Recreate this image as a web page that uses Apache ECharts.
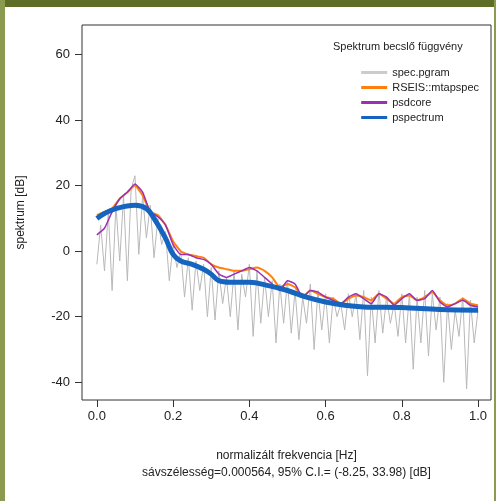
<!DOCTYPE html>
<html><head><meta charset="utf-8">
<script src="https://cdn.jsdelivr.net/npm/echarts@6/dist/echarts.min.js"></script>
<style>html,body{margin:0;padding:0;background:#fff}#c{width:496px;height:501px}</style>
</head><body><div id="c"></div>
<script>
var pgramX = [];
for (var i = 0; i <= 100; i++) pgramX.push(i / 100);
var pgramY = [-4,8,-6,12,-12,14,-3,17,-9,19,23,-1,17,4,14,-2,10,2,6,-9,2,-5,0,-14,-2,-18,-3,-12,-4,-20,
  -5,-21,-6,-16,-8,-20,-6,-24,-7,-14,-4,-26,-6,-22,-8,-20,-9,-28,-10,-22,-9,-25,-12,-27,-14,-22,-10,-30,-12,-24,
  -13,-28,-14,-20,-16,-24,-13,-20,-13,-27,-12,-38,-14,-28,-12,-25,-14,-22,-16,-26,-13,-28,-13,-36,-14,-28,-12,-32,-13,-24,
  -14,-40,-16,-30,-18,-26,-14,-42,-15,-28,-18];
var taperX = [0,0.02,0.04,0.06,0.08,0.1,0.12,0.14,0.16,0.18,0.2,0.22,0.24,0.26,0.28,0.3,0.32,0.34,0.36,0.38,0.4,0.42,0.44,0.46,0.48,0.5,
  0.52,0.54,0.56,0.58,0.6,0.62,0.64,0.66,0.68,0.7,0.72,0.74,0.76,0.78,0.8,0.82,0.84,0.86,0.88,0.9,0.92,0.94,0.96,0.98,1.0];
var mtapY = [11,12,13,16,18,20,17,12,11,8,3,0,-1,-1.5,-2,-4,-5,-5.5,-6,-6,-5.5,-5,-6,-8,-11,-10,
  -11,-14,-12,-13,-14,-14.5,-16,-14.5,-13.5,-14,-15,-13,-14.5,-16,-14,-13.5,-15,-14,-12.5,-15,-16.5,-16,-14.5,-16,-16.5];
var psdY = [5,7,12,16,18,20.5,18,12,10.5,8,2,-1,-1,-2,-2.5,-4,-7,-8,-7,-6,-5,-6,-8,-10,-12,-9,
  -10,-14,-12,-12.5,-14,-15,-16,-14,-13,-14.5,-16,-13,-14,-16.5,-14.5,-13,-15,-14.5,-12,-15.5,-17,-16,-15,-16.5,-17];
var pspecX = [0,0.02,0.05,0.1,0.13,0.15,0.18,0.2,0.22,0.25,0.28,0.3,0.32,0.35,0.4,0.45,0.5,0.55,0.6,0.65,0.7,0.8,0.9,1.0];
var pspecY = [10,11.5,13,14,13,10,4,-1,-3,-4,-5.5,-7,-9,-9.5,-9.5,-10.5,-12,-14,-15.5,-16.5,-17,-17.2,-17.8,-18];
var xTicks = [0,0.2,0.4,0.6,0.8,1.0];
var yTicks = [-40,-20,0,20,40,60];
var names = ['spec.pgram','RSEIS::mtapspec','psdcore','pspectrum'];

function zip(xs, ys) { return xs.map(function (x, i) { return [x, ys[i]]; }); }

var chart = echarts.init(document.getElementById('c'));
var f = 'Liberation Sans, Arial, sans-serif';
chart.setOption({
  animation: false,
  textStyle: { fontFamily: f },
  grid: { left: 82, right: 5, top: 25, bottom: 101, show: true, borderColor: '#333', borderWidth: 1 },
  xAxis: {
    type: 'value', min: -0.039, max: 1.034,
    axisLine: { show: false, onZero: false }, splitLine: { show: false },
    axisTick: { show: true, length: 7, lineStyle: { color: '#333' }, customValues: xTicks },
    axisLabel: { customValues: xTicks, color: '#222', fontSize: 13, margin: 10,
      formatter: function (v) { return v.toFixed(1); } },
    name: 'normalizált frekvencia [Hz]\nsávszélesség=0.000564, 95% C.I.= (-8.25, 33.98) [dB]',
    nameLocation: 'middle', nameGap: 47, nameTextStyle: { color: '#222', fontSize: 12, lineHeight: 17 }
  },
  yAxis: {
    type: 'value', min: -45.4, max: 69,
    axisLine: { show: false, onZero: false }, splitLine: { show: false },
    axisTick: { show: true, length: 7, lineStyle: { color: '#333' }, customValues: yTicks },
    axisLabel: { customValues: yTicks, color: '#222', fontSize: 13, margin: 12 },
    name: 'spektrum [dB]', nameLocation: 'middle', nameGap: 55, nameRotate: 90,
    nameTextStyle: { color: '#222', fontSize: 12 }
  },
  legend: {
    right: 12, top: 62, orient: 'vertical', itemWidth: 26, itemHeight: 3, itemGap: 4,
    textStyle: { fontSize: 11, color: '#222' }, icon: 'rect',
    data: names
  },
  graphic: [
    { type: 'rect', shape: { x: 0, y: 0, width: 496, height: 7 }, style: { fill: '#5e6e26' } },
    { type: 'rect', shape: { x: 0, y: 0, width: 5, height: 501 }, style: { fill: '#8a9a4e' } },
    { type: 'rect', shape: { x: 494, y: 0, width: 2, height: 501 }, style: { fill: '#8a9a4e' } },
    { type: 'text', left: 333, top: 41, style: { text: 'Spektrum becslő függvény', font: '11px ' + f, fill: '#222' } }
  ],
  series: [
    { name: names[0], type: 'line', data: zip(pgramX, pgramY), showSymbol: false,
      lineStyle: { color: '#b8b8b8', width: 1 }, itemStyle: { color: '#cccccc' } },
    { name: names[1], type: 'line', data: zip(taperX, mtapY), showSymbol: false, smooth: 0.15,
      lineStyle: { color: '#ff7f0e', width: 2 }, itemStyle: { color: '#ff7f0e' } },
    { name: names[2], type: 'line', data: zip(taperX, psdY), showSymbol: false, smooth: 0.15,
      lineStyle: { color: '#9b30b0', width: 1.5 }, itemStyle: { color: '#9b30b0' } },
    { name: names[3], type: 'line', data: zip(pspecX, pspecY), showSymbol: false, smooth: 0.4,
      lineStyle: { color: '#1565c0', width: 5 }, itemStyle: { color: '#1565c0' } }
  ]
});
</script></body></html>
